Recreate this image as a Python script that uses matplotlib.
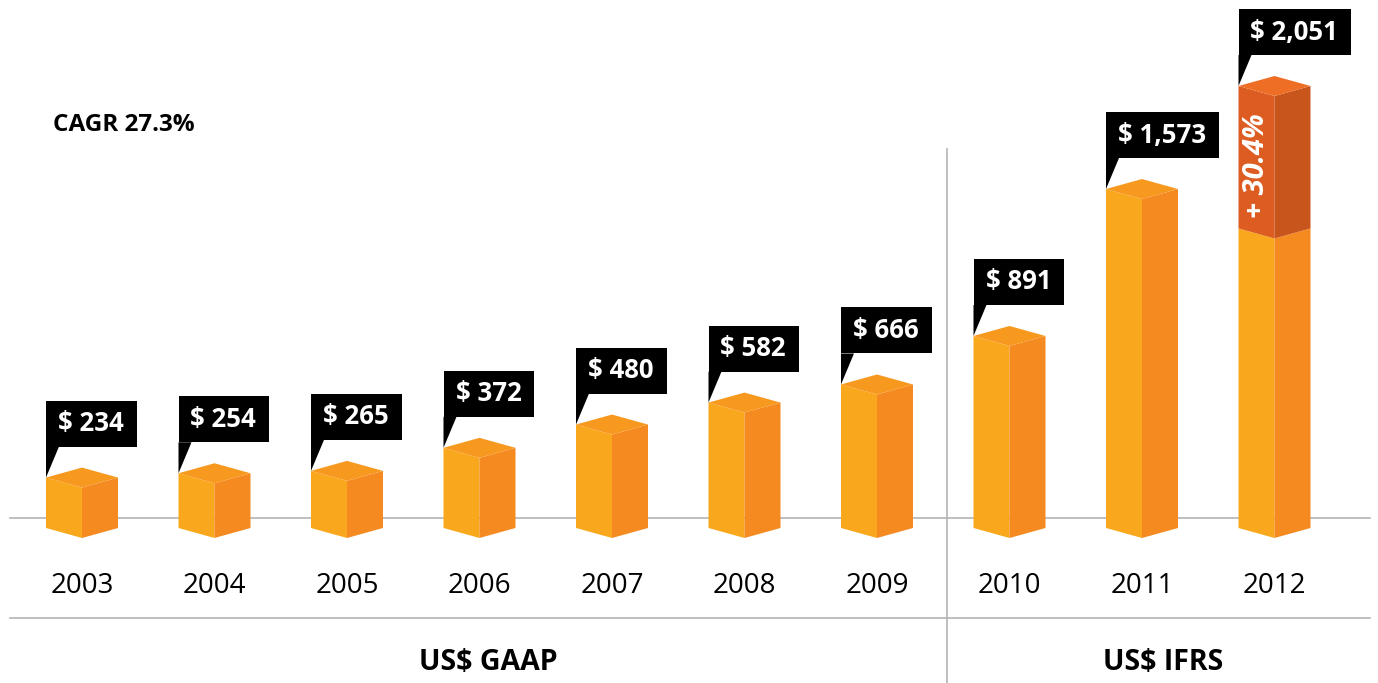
import matplotlib
matplotlib.use('Agg')
import matplotlib.pyplot as plt
from matplotlib.patches import Polygon, Rectangle

plt.rcParams['font.family'] = ['Open Sans', 'DejaVu Sans']

years = ['2003', '2004', '2005', '2006', '2007', '2008', '2009', '2010', '2011', '2012']
values = [234, 254, 265, 372, 480, 582, 666, 891, 1573, 2051]
labels = ['$ 234', '$ 254', '$ 265', '$ 372', '$ 480', '$ 582', '$ 666', '$ 891', '$ 1,573', '$ 2,051']
split_2012 = 1390      # top of the orange part of the 2012 bar
growth_label = '+ 30.4%'
groups = ['US$ GAAP', 'US$ IFRS']
cagr = 'CAGR 27.3%'

# colours
FRONT, SIDE, TOP = '#F9A81D', '#F58A21', '#F7981F'
RFRONT, RSIDE, RTOP = '#DC5C22', '#C8561C', '#EE6E26'
GRID = '#B4B4B4'

W, H = 1378, 683
fig = plt.figure(figsize=(W / 100, H / 100), dpi=100)
ax = fig.add_axes([0, 0, 1, 1])
# x in bar units (132.5 px per bar, first bar at 82 px), y in value units
px_x = 132.5
px_y = 0.2155
ax.set_xlim(-82 / px_x, (W - 82) / px_x)
ax.set_ylim((528 - H) / px_y, 528 / px_y)
ax.axis('off')

w = 36 / px_x        # half width of the block
d = 10 / px_y        # depth offset of the front edge


def block(c, lo, hi, front, side, top, lid=True):
    ax.add_patch(Polygon([(c - w, lo), (c, lo - d), (c, hi - d), (c - w, hi)],
                         closed=True, fc=front, ec='none', zorder=3))
    ax.add_patch(Polygon([(c, lo - d), (c + w, lo), (c + w, hi), (c, hi - d)],
                         closed=True, fc=side, ec='none', zorder=3))
    if lid:
        ax.add_patch(Polygon([(c - w, hi), (c, hi - d), (c + w, hi), (c, hi + d)],
                             closed=True, fc=top, ec='none', zorder=4))


def px2x(p):
    return p / px_x


def px2y(p):
    return p / px_y


# grid lines
x0, x1 = -82 / px_x + px2x(10), -82 / px_x + px2x(1370)
ax.plot([x0, x1], [d, d], color=GRID, lw=1.2, zorder=1)
ax.plot([x0, x1], [d - px2y(100), d - px2y(100)], color=GRID, lw=1.2, zorder=1)
xsep = (947 - 82) / px_x
ax.plot([xsep, xsep], [(528 - 149) / px_y, (528 - H) / px_y], color=GRID, lw=1.2, zorder=1)

fig.canvas.draw()
r = fig.canvas.get_renderer()

for i, (yr, v, lab) in enumerate(zip(years, values, labels)):
    if i == len(values) - 1:
        block(i, 0, split_2012, FRONT, SIDE, TOP, lid=False)
        block(i, split_2012, v, RFRONT, RSIDE, RTOP)
        ax.text(i - w / 2, (split_2012 + v) / 2 - px2y(8), growth_label, rotation=90,
                ha='center', va='center', color='white', fontsize=21,
                fontweight='bold', style='italic', zorder=6)
    else:
        block(i, 0, v, FRONT, SIDE, TOP)

    # callout
    b0 = v + px2y(31)
    b1 = b0 + px2y(46)
    t = ax.text(i - w + px2x(12), (b0 + b1) / 2, lab, ha='left', va='center',
                color='white', fontsize=18.5, fontweight='bold', zorder=8)
    bb = t.get_window_extent(renderer=r).transformed(ax.transData.inverted())
    right = bb.x1 + px2x(13)
    ax.add_patch(Rectangle((i - w, b0), right - (i - w), b1 - b0, fc='black', ec='none', zorder=7))
    ax.add_patch(Polygon([(i - w, b0), (i - w + px2x(13), b0), (i - w, v)],
                         closed=True, fc='black', ec='none', zorder=7))

    ax.text(i, d - px2y(68), yr, ha='center', va='center', fontsize=20, color='black')

yg = d - px2y(145)
ax.text((488 - 82) / px_x, yg, groups[0], ha='center', va='center', fontsize=20.5,
        fontweight='bold', color='black')
ax.text((1163 - 82) / px_x, yg, groups[1], ha='center', va='center', fontsize=20.5,
        fontweight='bold', color='black')

ax.text((53 - 82) / px_x, (528 - 125) / px_y, cagr, ha='left', va='center',
        fontsize=17.5, fontweight='bold', color='black')

fig.savefig('out.png', dpi=100)
